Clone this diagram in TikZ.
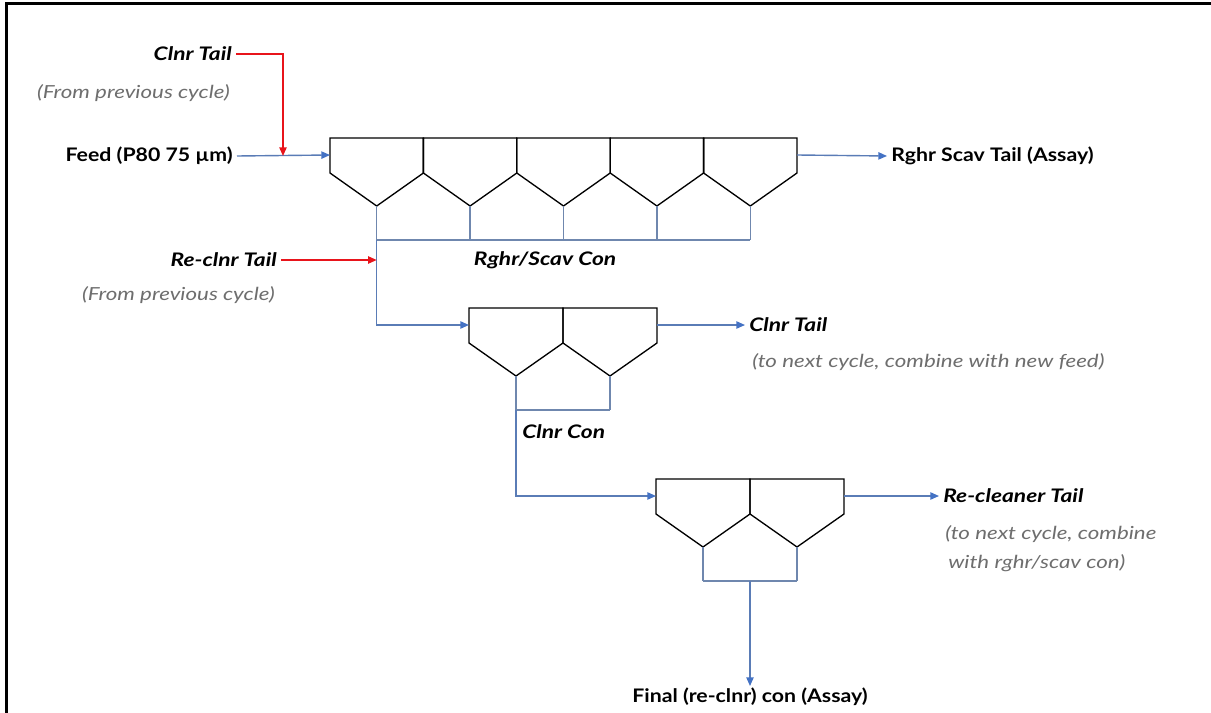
\documentclass[tikz,border=0pt]{standalone}
\usepackage{fontspec}
\setmainfont{Lato}
\newfontfamily\lblfont{Lato}[FakeStretch=1.14]
\newfontfamily\lblifont{Lato}[FakeStretch=1.22]
\newfontfamily\notefont{Lato}[FakeStretch=1.24]
\usetikzlibrary{arrows.meta}
\definecolor{flowblue}{HTML}{5A7CB6}
\definecolor{tipblue}{HTML}{4472C4}
\definecolor{conblue}{HTML}{6F87AE}
\definecolor{recred}{HTML}{E8141B}
\definecolor{notegray}{HTML}{6E6E6E}

% one bank of flotation cells: name, left x, top y, number of cells, cell width
\newcommand\flotbank[5]{%
  \foreach \i in {1,...,#4}{%
    \pgfmathsetmacro\xl{#2+(\i-1)*#5}%
    \pgfmathsetmacro\xr{#2+\i*#5}%
    \pgfmathsetmacro\xc{#2+(\i-0.5)*#5}%
    \draw[cellline] (\xl,#3) -- (\xr,#3) -- (\xr,#3+35) -- (\xc,#3+68) -- (\xl,#3+35) -- cycle;
    \draw[conline] (\xc,#3+68) -- (\xc,#3+102);
    \coordinate (#1-c\i) at (\xc,#3+102);
  }%
  \coordinate (#1-in) at (#2,#3+17);
  \coordinate (#1-out) at ({#2+#4*#5},#3+17);
  \coordinate (#1-m) at ({#2+#4*#5/2},#3+102);
  \draw[conline] (#1-c1) -- (#1-c#4);
}

\begin{document}
\begin{tikzpicture}[x=0.75pt,y=-0.75pt,
  cellline/.style={draw=black,line width=1pt,line join=miter},
  conline/.style={draw=conblue,line width=0.95pt},
  flow/.style={draw=flowblue,line width=1.05pt,-{Triangle[length=6.5pt,width=5.5pt,color=tipblue]}},
  recycle/.style={draw=recred,line width=1.05pt,-{Triangle[length=6.5pt,width=5.5pt]}},
  lbl/.style={font=\lblfont\fontsize{14}{16}\selectfont\bfseries,inner xsep=3pt,inner ysep=1pt},
  lbli/.style={lbl,font=\lblifont\fontsize{14}{16}\selectfont\bfseries\itshape},
  note/.style={font=\notefont\fontsize{13.5}{16}\selectfont\itshape,text=notegray,inner xsep=3pt,inner ysep=1pt}]
\useasboundingbox (0,0) rectangle (1211,713);
\fill[white] (0,0) rectangle (1211,713);
% page frame, left and top edges
\draw[line width=2.2pt] (6.5,713) -- (6.5,3.5) -- (1211,3.5);

% cell banks
\flotbank{rs}{330}{138}{5}{93.4}
\flotbank{cl}{469}{308}{2}{94}
\flotbank{rc}{656}{479}{2}{94}

% labels
\node[lbli,anchor=east] (ctail) at (236,54) {Clnr Tail};
\node[note,anchor=east] (ctailnote) at (234,93) {(From previous cycle)};
\node[lbl,anchor=east] (feed) at (237,156) {Feed (P80 75 µm)};
\node[lbl,anchor=west] (rstail) at (887,156) {Rghr Scav Tail (Assay)};
\node[lbli,anchor=east] (rctail) at (281,260) {Re-clnr Tail};
\node[note,anchor=east] (rctailnote) at (279,295) {(From previous cycle)};
\node[lbli] (rscon) at (545,260) {Rghr/Scav Con};
\node[lbli,anchor=west] (cltail) at (745,325) {Clnr Tail};
\node[note,anchor=west] (cltailnote) at (748,362) {(to next cycle, combine with new feed)};
\node[lbli,anchor=west] (clcon) at (518,432) {Clnr Con};
\node[lbli,anchor=west] (rcltail) at (939,496) {Re-cleaner Tail};
\node[note,anchor=west] (rcnote1) at (941,534) {(to next cycle, combine};
\node[note,anchor=west] (rcnote2) at (944,563) {with rghr/scav con)};
\node[lbl,anchor=north] (final) at (750,686) {Final (re-clnr) con (Assay)};

% streams
\coordinate (feedjoin) at (283,156);
\draw[flow] (feed.east) -- (rs-in);
\draw[recycle] (ctail.east) -| (feedjoin);
\draw[flow] (rs-out) -- (rstail.west);
\draw[flow] (rs-c1) |- (cl-in);
\draw[recycle] (rctail.east) -- (rctail.east -| rs-c1);
\draw[flow] (cl-out) -- (cltail.west);
\draw[flow] (cl-c1) |- (rc-in);
\draw[flow] (rc-out) -- (rcltail.west);
\draw[flow] (rc-m) -- (final.north);
\end{tikzpicture}
\end{document}
